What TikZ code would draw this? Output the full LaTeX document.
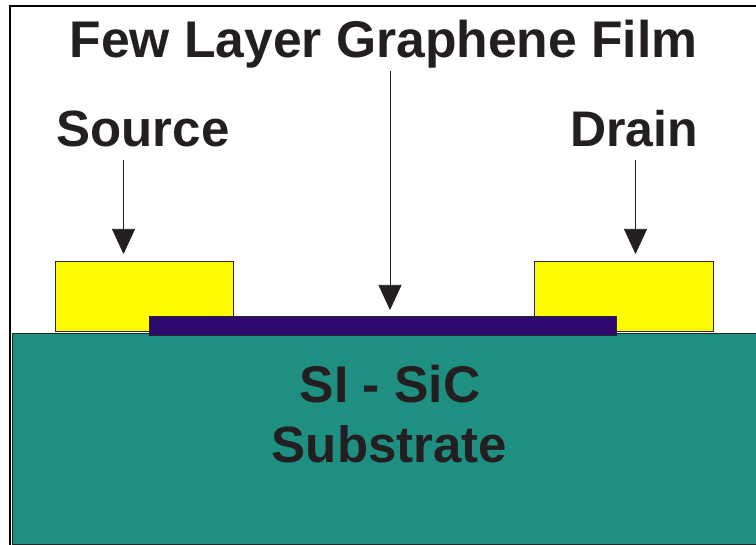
\documentclass[tikz,border=0pt]{standalone}
\usepackage{fontspec}
\setmainfont{Liberation Sans}
\usetikzlibrary{arrows.meta}
\definecolor{goldc}{RGB}{255,250,0}
\definecolor{subc}{RGB}{31,143,130}
\definecolor{filmc}{RGB}{46,10,110}
\definecolor{txtc}{RGB}{35,31,32}
\tikzset{x=1pt,y=-1pt,
 lbl/.style={font=\bfseries\fontsize{51}{56}\selectfont,text=txtc,inner sep=0pt,anchor=base},
 pad/.style={draw=black!85,line width=.7pt,fill=goldc,inner sep=0pt,anchor=north west},
 arr/.style={draw=txtc,line width=.7pt,-{Triangle[length=25pt,width=23pt]}}}
\begin{document}
\begin{tikzpicture}
\useasboundingbox (0,0) rectangle (756,545);
\fill[white] (0,0) rectangle (756,545);
\draw[black,line width=2pt] (9.5,545) -- (9.5,6) -- (756,6);
\node[draw=black!85,line width=.7pt,fill=subc,inner sep=0pt,anchor=north west,minimum width=746pt,minimum height=211pt] (sub) at (11.5,333) {};
\node[pad,minimum width=178pt,minimum height=70.5pt] (src) at (55,261) {};
\node[pad,minimum width=178.5pt,minimum height=70.5pt] (drn) at (534,261) {};
\node[draw=black!85,line width=.7pt,fill=filmc,inner sep=0pt,anchor=north west,minimum width=467pt,minimum height=19pt] (film) at (149,316.5) {};
\node[lbl,font=\bfseries\fontsize{51.6}{56}\selectfont] (t) at (383.5,58) {Few Layer Graphene Film};
\node[lbl] (s) at (143,147) {Source};
\node[lbl,font=\bfseries\fontsize{50}{56}\selectfont] (d) at (634,147) {Drain};
\node[lbl,font=\bfseries\fontsize{51.6}{56}\selectfont] (a) at (390,403) {SI - SiC};
\node[lbl] (b) at (389.5,463) {Substrate};
\coordinate (ts) at (123.5,160);
\coordinate (te) at (123.5,254);
\coordinate (ds) at (635.5,160);
\coordinate (de) at (635.5,254);
\coordinate (fs) at (390,71);
\coordinate (fe) at (390,310);
\draw[arr] (ts) -- (te);
\draw[arr] (ds) -- (de);
\draw[arr] (fs) -- (fe);
\end{tikzpicture}
\end{document}
